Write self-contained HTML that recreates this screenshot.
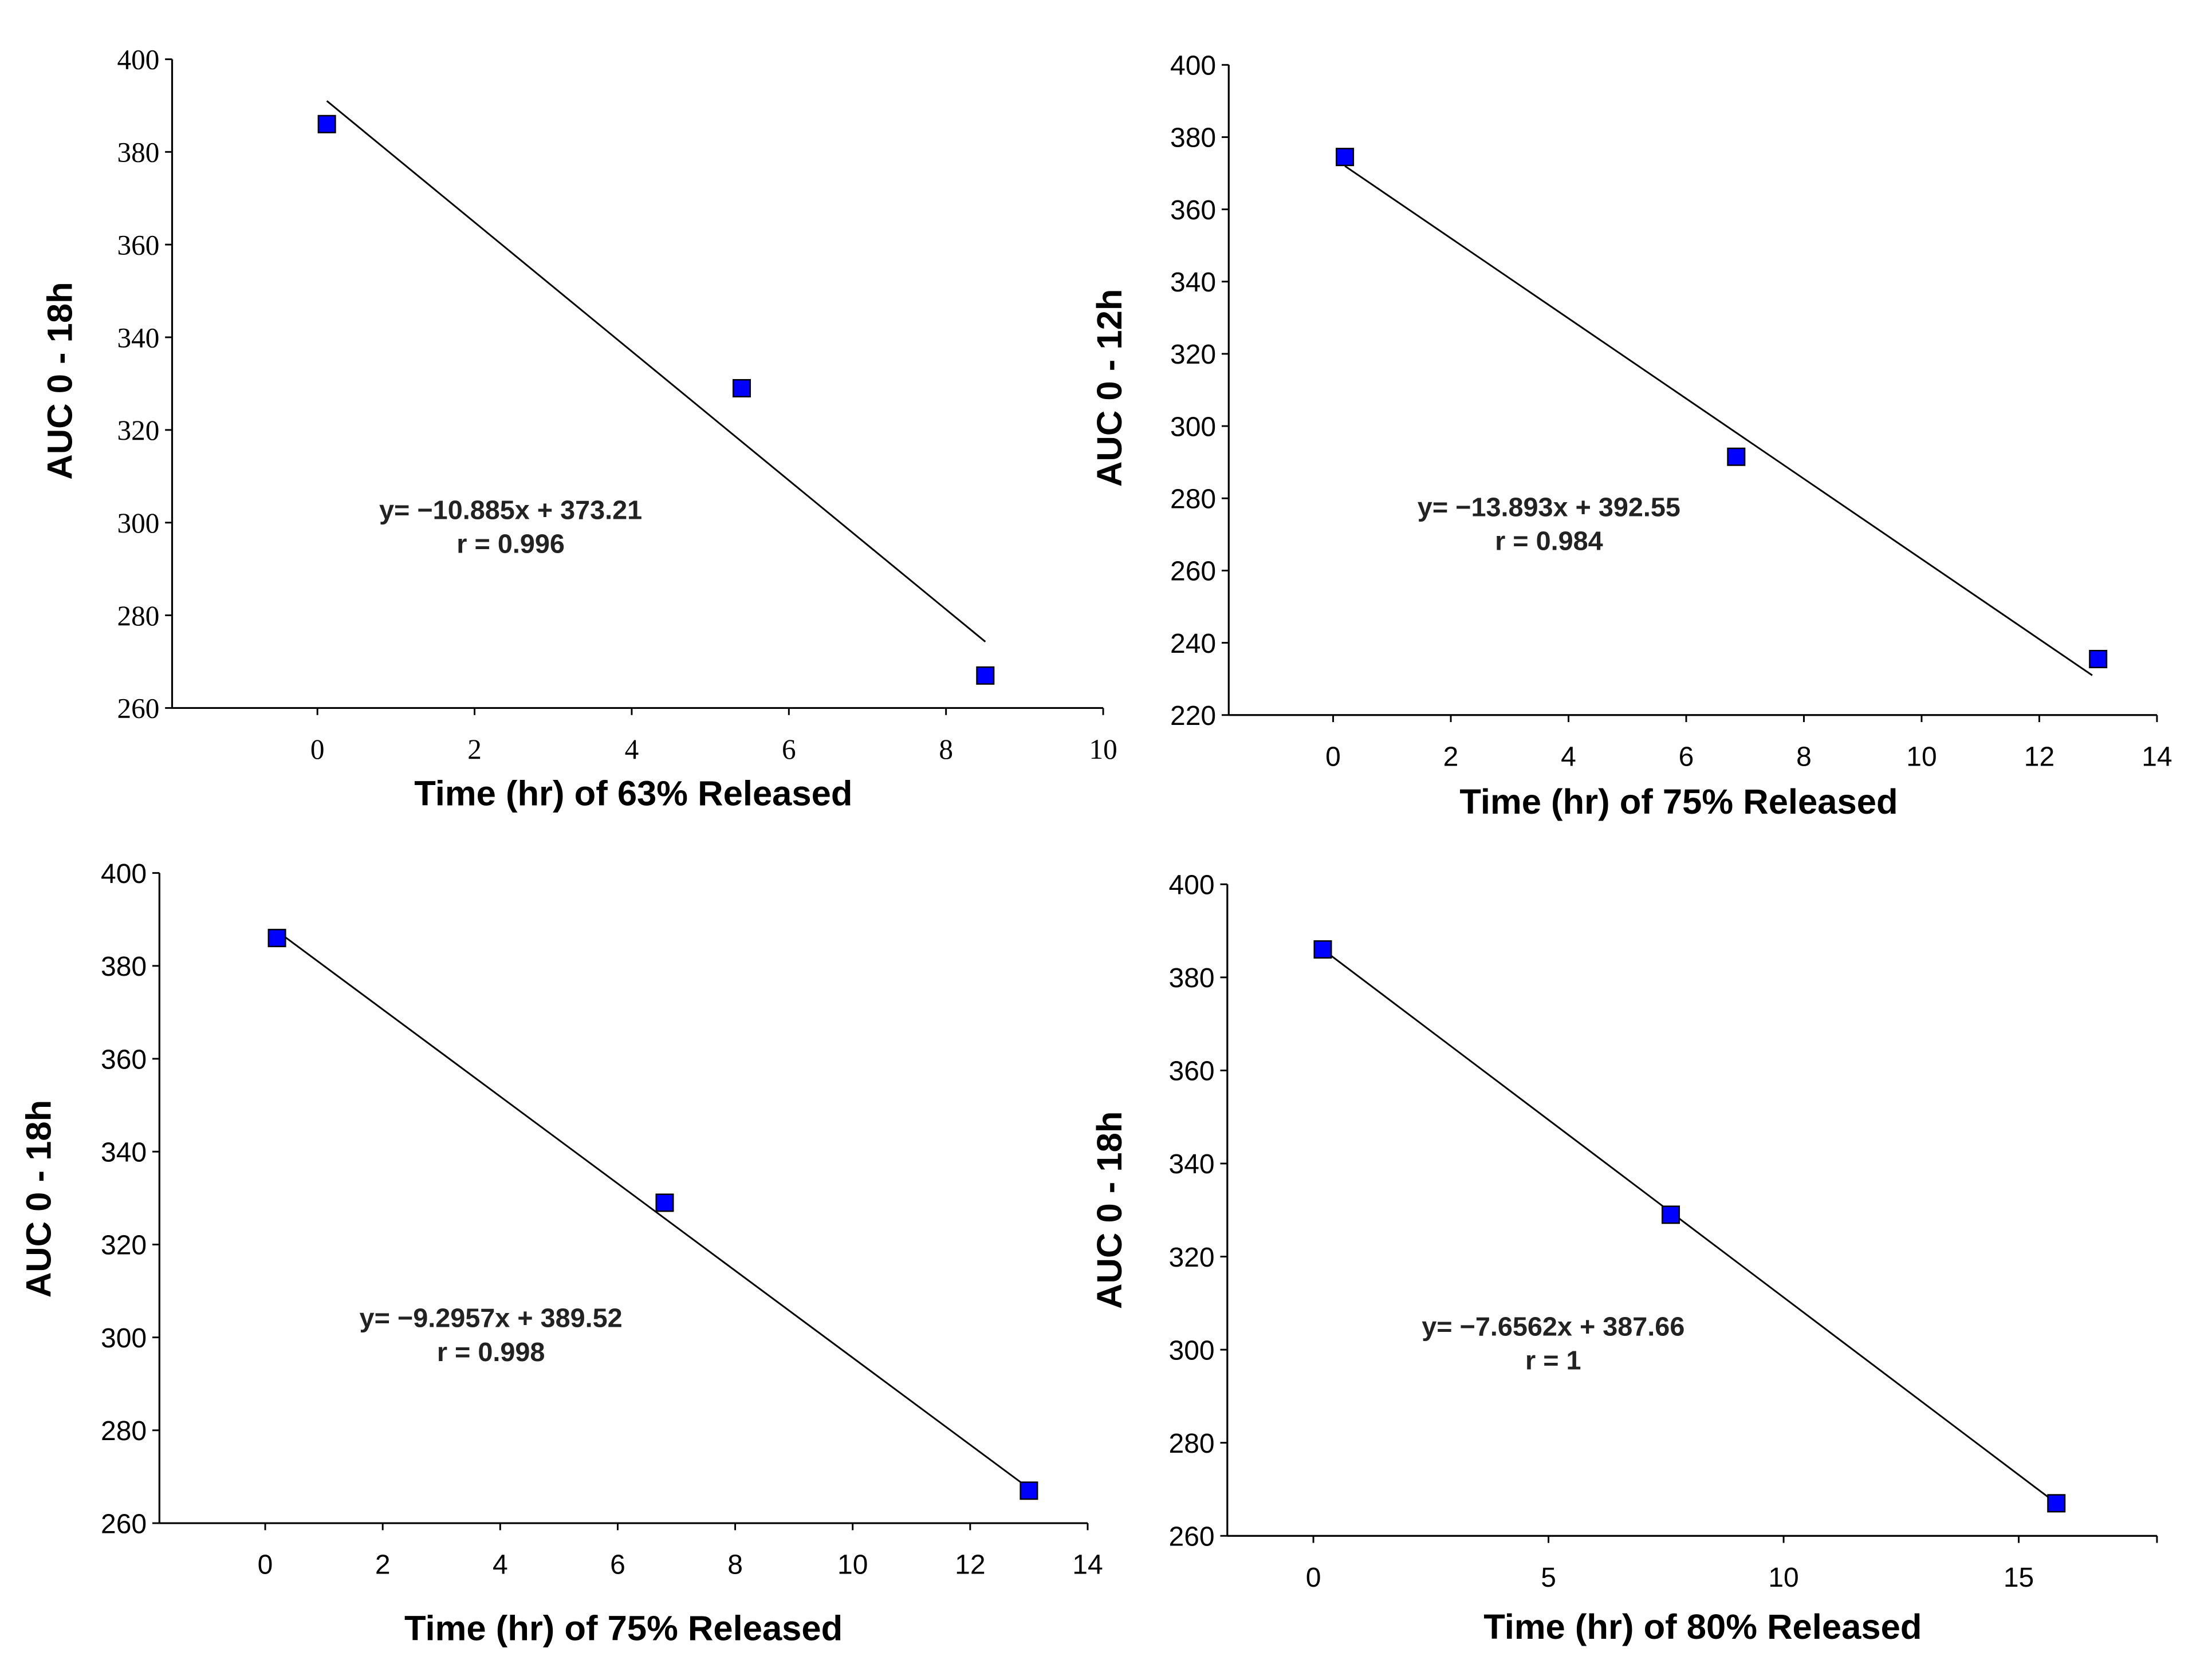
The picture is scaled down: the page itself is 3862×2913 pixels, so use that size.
<!DOCTYPE html>
<html><head><meta charset="utf-8"><style>
html,body{margin:0;padding:0;background:#fff;}
svg{display:block;}
</style></head><body>
<svg id="fig" width="3862" height="2913" viewBox="0 0 1568 1182.7" xmlns="http://www.w3.org/2000/svg"></svg>
<script>
// Panel A data
const aX = [0.12, 5.4, 8.5];
const aY = [386, 329, 267];
const aFitX = [0.12, 8.5];
const aFitY = [391, 274.3];
const aXTicks = [0, 2, 4, 6, 8, 10];
const aYTicks = [260, 280, 300, 320, 340, 360, 380, 400];
// Panel B data
const bX = [0.2, 6.85, 13];
const bY = [374.5, 291.5, 235.5];
const bFitX = [0.2, 12.9];
const bFitY = [372, 231];
const bXTicks = [0, 2, 4, 6, 8, 10, 12, 14];
const bYTicks = [220, 240, 260, 280, 300, 320, 340, 360, 380, 400];
// Panel C data
const cX = [0.2, 6.8, 13];
const cY = [386, 329, 267];
const cFitX = [0.2, 13];
const cFitY = [387.5, 267.5];
const cXTicks = [0, 2, 4, 6, 8, 10, 12, 14];
const cYTicks = [260, 280, 300, 320, 340, 360, 380, 400];
// Panel D data
const dX = [0.2, 7.6, 15.8];
const dY = [386, 329, 267];
const dFitX = [0.2, 15.8];
const dFitY = [386, 267];
const dXTicks = [0, 5, 10, 15];
const dYTicks = [260, 280, 300, 320, 340, 360, 380, 400];

const NS = "http://www.w3.org/2000/svg";
const fig = document.getElementById('fig');
function mk(tag, attrs, parent, txt){
  const e = document.createElementNS(NS, tag);
  for (const k in attrs) e.setAttribute(k, attrs[k]);
  if (txt !== undefined) e.textContent = txt;
  parent.appendChild(e);
  return e;
}
function panel(o){
  const g = mk('g', {}, fig);
  
  
  const sx = v => o.x0px + (v - 0) * (o.x1px - o.x0px) / (o.xMaxTick - 0);
  const sy = v => o.bot + (v - o.yMin) * (o.top - o.bot) / (o.yMax - o.yMin);
  const font = o.serif ? '"Liberation Serif", serif' : '"Liberation Sans", sans-serif';
  const fs = o.serif ? 20 : 19.5;
  const ya = mk('line', {x1:o.left, y1:o.top, x2:o.left, y2:o.bot, stroke:'#000','stroke-width':1.3}, g);
  
  
  const xa = mk('line', {x1:o.left, y1:o.bot, x2:o.right, y2:o.bot, stroke:'#000','stroke-width':1.3}, g);
  
  
  o.yTicks.forEach(v => {
    const y = sy(v);
    mk('line', {x1:o.left-5, y1:y, x2:o.left, y2:y, stroke:'#000','stroke-width':1.2}, g);
    const t = mk('text', {x:o.left-9, y:y+7, 'text-anchor':'end', 'font-family':font, 'font-size':fs, fill:'#000'}, g, String(v));
    
    
  });
  o.xTicks.forEach(v => {
    const x = sx(v);
    mk('line', {x1:x, y1:o.bot, x2:x, y2:o.bot+5, stroke:'#000','stroke-width':1.2}, g);
    const t = mk('text', {x:x, y:o.bot+36, 'text-anchor':'middle', 'font-family':font, 'font-size':fs, fill:'#000'}, g, String(v));
    
    
  });
  if (o.right > sx(o.xTicks[o.xTicks.length-1]) + 3) {
    mk('line', {x1:o.right, y1:o.bot, x2:o.right, y2:o.bot+5, stroke:'#000','stroke-width':1.2}, g);
  }
  const fl = mk('line', {x1:sx(o.fitX[0]), y1:sy(o.fitY[0]), x2:sx(o.fitX[1]), y2:sy(o.fitY[1]), stroke:'#000','stroke-width':1.2}, g);
  
  
  o.xs.forEach((v, i) => {
    const r = mk('rect', {x:sx(v)-6, y:sy(o.ys[i])-6, width:12, height:12, fill:'#0000ff', stroke:'#000','stroke-width':1}, g);
    
    
  });
  const e1 = mk('text', {x:o.eqX, y:o.eqY, 'text-anchor':'middle', 'font-family':'"Liberation Sans", sans-serif', 'font-size':19, 'font-weight':'bold', fill:'#222'}, g, o.eq);
  
  
  const e2 = mk('text', {x:o.eqX, y:o.eqY+24, 'text-anchor':'middle', 'font-family':'"Liberation Sans", sans-serif', 'font-size':19, 'font-weight':'bold', fill:'#222'}, g, o.r);
  
  
  const xt = mk('text', {x:o.xtX, y:o.xtY, 'text-anchor':'middle', 'font-family':'"Liberation Sans", sans-serif', 'font-size':25, 'font-weight':'bold', fill:'#000'}, g, o.xTitle);
  
  
  const yt = mk('text', {x:0, y:0, transform:'translate('+o.ytX+','+o.ytY+') rotate(-90)', 'text-anchor':'middle', 'font-family':'"Liberation Sans", sans-serif', 'font-size':25, 'font-weight':'bold', fill:'#000'}, g, o.yTitle);
  
  
}
panel({name:'panel-63-percent', serif:true, left:122, right:782, top:42, bot:502, yMin:260, yMax:400,
  x0px:225, x1px:782, xMaxTick:10, xs:aX, ys:aY, fitX:aFitX, fitY:aFitY, xTicks:aXTicks, yTicks:aYTicks,
  eq:'y= \u221210.885x + 373.21', r:'r = 0.996', eqX:362, eqY:368, xTitle:'Time (hr) of 63% Released', xtX:449, xtY:571,
  yTitle:'AUC 0 - 18h', ytX:51, ytY:270});
panel({name:'panel-75-percent-12h', left:871, right:1529, top:46, bot:507, yMin:220, yMax:400,
  x0px:945, x1px:1529, xMaxTick:14, xs:bX, ys:bY, fitX:bFitX, fitY:bFitY, xTicks:bXTicks, yTicks:bYTicks,
  eq:'y= \u221213.893x + 392.55', r:'r = 0.984', eqX:1098, eqY:366, xTitle:'Time (hr) of 75% Released', xtX:1190, xtY:577,
  yTitle:'AUC 0 - 12h', ytX:795, ytY:275});
panel({name:'panel-75-percent-18h', left:113, right:771, top:619, bot:1080, yMin:260, yMax:400,
  x0px:188, x1px:771, xMaxTick:14, xs:cX, ys:cY, fitX:cFitX, fitY:cFitY, xTicks:cXTicks, yTicks:cYTicks,
  eq:'y= \u22129.2957x + 389.52', r:'r = 0.998', eqX:348, eqY:941, xTitle:'Time (hr) of 75% Released', xtX:442, xtY:1163,
  yTitle:'AUC 0 - 18h', ytX:36, ytY:850});
panel({name:'panel-80-percent', left:870, right:1529, top:627, bot:1089, yMin:260, yMax:400,
  x0px:931, x1px:1431, xMaxTick:15, xs:dX, ys:dY, fitX:dFitX, fitY:dFitY, xTicks:dXTicks, yTicks:dYTicks,
  eq:'y= \u22127.6562x + 387.66', r:'r = 1', eqX:1101, eqY:947, xTitle:'Time (hr) of 80% Released', xtX:1207, xtY:1162,
  yTitle:'AUC 0 - 18h', ytX:795, ytY:858});
</script>
</body></html>
